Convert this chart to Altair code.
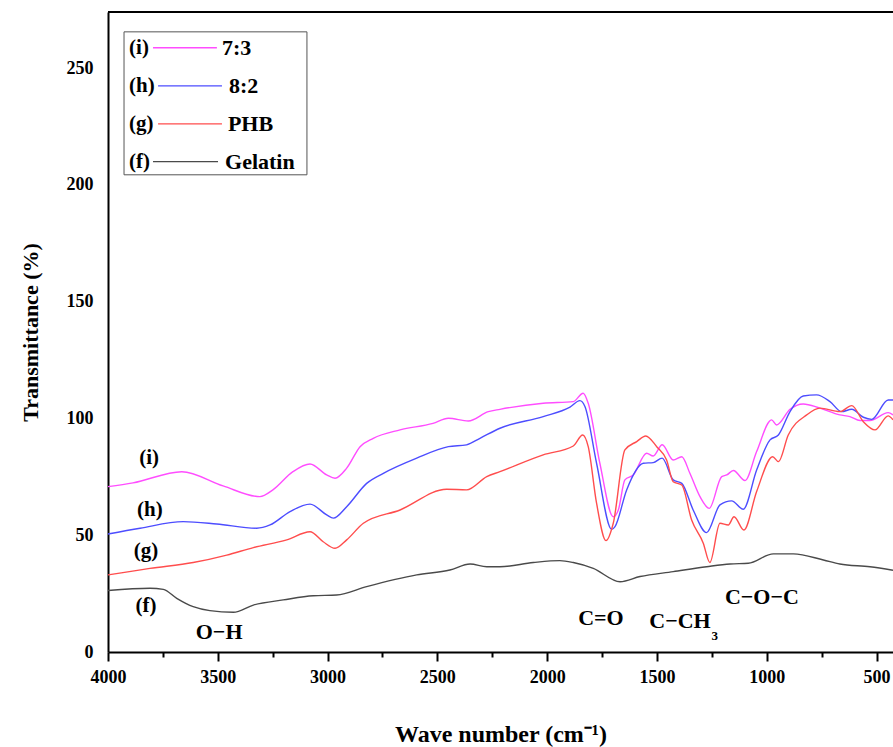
import altair as alt
import pandas as pd

# ---------------- data ----------------
series_names = ["7:3", "8:2", "PHB", "Gelatin"]
series_colors = ["#ff4dff", "#4d4dff", "#ff4d4d", "#4a4a4a"]

wn_i = [4000, 3886, 3664, 3476, 3308, 3249, 3158, 3080, 3004, 2966, 2913, 2852, 2792, 2670, 2520, 2450, 2359, 2268, 2215,
        2018, 1881, 1836, 1813, 1760, 1699, 1676, 1646, 1608, 1547, 1517, 1476, 1426, 1387, 1350, 1304, 1262, 1205, 1182,
        1152, 1099, 1046, 978, 955, 894, 834, 758, 667, 621, 575, 530, 447, 425]
tr_i = [70.8, 72.4, 77.2, 71.1, 66.5, 69.4, 77.2, 80.5, 75.8, 74.4, 78.7, 87.9, 91.5, 95.1, 97.9, 100.1, 98.9, 102.9, 103.9,
        106.5, 107.2, 110.8, 106.5, 80.8, 57.9, 60.8, 73.7, 75.8, 85.1, 83.9, 88.7, 82.2, 83.6, 76.5, 66.5, 61.5, 75.1, 75.8,
        77.7, 73.4, 85.8, 99.4, 97.2, 103.9, 106.2, 104.4, 101.5, 100.8, 99.1, 99.1, 102.5, 101.5]

wn_h = [4000, 3854, 3657, 3505, 3323, 3262, 3171, 3080, 3004, 2974, 2913, 2822, 2746, 2594, 2450, 2367, 2306, 2215,
        2018, 1896, 1851, 1828, 1775, 1706, 1691, 1638, 1562, 1517, 1476, 1426, 1387, 1335, 1274, 1213, 1160, 1107,
        1046, 985, 947, 894, 834, 773, 712, 659, 613, 560, 522, 447, 425]
tr_h = [50.5, 53.0, 55.8, 54.8, 53.0, 54.4, 60.1, 63.3, 58.7, 57.3, 62.2, 72.2, 76.5, 83.0, 87.9, 88.7, 91.5, 95.8,
        100.8, 104.8, 107.6, 105.1, 80.8, 52.5, 53.7, 69.4, 80.8, 81.1, 83.0, 73.7, 72.2, 60.8, 51.1, 63.0, 64.7, 61.1,
        77.9, 90.8, 92.9, 102.9, 109.6, 110.1, 107.2, 102.9, 103.9, 100.5, 99.6, 107.9, 107.9]

wn_g = [4000, 3809, 3612, 3459, 3338, 3186, 3080, 3020, 2966, 2913, 2837, 2670, 2458, 2367, 2275, 2215,
        2018, 1881, 1838, 1813, 1775, 1732, 1699, 1646, 1592, 1551, 1501, 1456, 1426, 1387, 1342, 1289, 1259, 1213,
        1175, 1149, 1104, 1046, 973, 947, 902, 818, 758, 667, 613, 560, 507, 447, 425]
tr_g = [33.0, 35.8, 38.3, 41.5, 44.7, 48.0, 51.5, 47.2, 44.4, 48.0, 55.1, 60.8, 69.7, 69.4, 75.1, 77.2,
        84.4, 88.2, 92.9, 87.9, 63.7, 47.7, 55.1, 86.5, 90.1, 92.5, 87.9, 82.2, 72.9, 71.5, 56.5, 46.6, 38.3, 55.1,
        54.4, 57.9, 52.2, 68.7, 83.6, 81.5, 92.9, 101.5, 104.4, 102.9, 105.5, 98.6, 95.1, 101.1, 99.4]

wn_f = [4000, 3809, 3748, 3687, 3612, 3536, 3429, 3338, 3202, 3065, 2959, 2822, 2594, 2443, 2351, 2275, 2215,
        2063, 1942, 1881, 1790, 1668, 1577, 1426, 1274, 1167, 1084, 970, 879, 742, 667, 530, 425]
tr_f = [26.3, 27.3, 26.8, 23.0, 19.4, 17.7, 17.0, 20.1, 22.3, 24.1, 24.4, 28.0, 33.0, 35.1, 37.7, 36.5, 36.5,
        38.3, 39.1, 38.3, 35.8, 30.1, 32.3, 34.4, 36.5, 37.7, 38.0, 42.0, 42.0, 39.4, 37.7, 36.5, 35.0]

# legend entries
leg_prefix = ["(i)", "(h)", "(g)", "(f)"]
# curve side labels
curve_labels = ["(i)", "(h)", "(g)", "(f)"]
# band labels
band_labels = ["O\u2212H", "C=O", "C\u2212CH", "3", "C\u2212O\u2212C"]

# ---------------- layout positions (annotation placement) ----------------
leg_box = dict(x1=3927, x2=3094, y1=265.5, y2=204.3)
leg_row_y = [258.7, 242.4, 226.1, 209.9]
leg_prefix_x = [3904, 3904, 3904, 3904]
leg_line_x1 = [3795, 3772, 3772, 3795]
leg_line_x2 = [3504, 3481, 3481, 3499]
leg_label_x = [3481, 3449, 3454, 3467]

curve_label_x = [3813, 3809, 3827, 3827]
curve_label_y = [83.1, 60.8, 43.3, 19.7]

band_x = [3494, 1755, 1395, 1237, 1022]
band_y = [8.6, 14.6, 13.3, 6.8, 23.6]
band_size = [22, 22, 22, 13, 22]

# ---------------- tables ----------------
rows = []
for name, wn, tr in zip(series_names, [wn_i, wn_h, wn_g, wn_f], [tr_i, tr_h, tr_g, tr_f]):
    for a, b in zip(wn, tr):
        rows.append({"series": name, "wn": a, "tr": b})
df = pd.DataFrame(rows)

leg_df = pd.DataFrame({
    "series": series_names, "prefix": leg_prefix, "y": leg_row_y,
    "px": leg_prefix_x, "x1": leg_line_x1, "x2": leg_line_x2, "lx": leg_label_x,
})
box_df = pd.DataFrame([leg_box])
cl_df = pd.DataFrame({"t": curve_labels, "x": curve_label_x, "y": curve_label_y})
band_df = pd.DataFrame({"t": band_labels, "x": band_x, "y": band_y, "s": band_size})

FONT = "Liberation Serif"
W, H = 785, 640

xscale = alt.Scale(domain=[425, 4000], reverse=True, nice=False, zero=False)
yscale = alt.Scale(domain=[0, 274], nice=False, zero=True)
cscale = alt.Scale(domain=series_names, range=series_colors)

x_axis = alt.Axis(
    title="Wave number (cm\u207b\u00b9)",
    values=list(range(500, 4001, 250)),
    labelExpr="datum.value % 500 === 0 ? format(datum.value, 'd') : ''",
    tickSize={"condition": {"test": "datum.value % 500 === 0", "value": 9}, "value": 5},
    tickWidth=2, tickColor="black",
    domainColor="black", domainWidth=2,
    labelFont=FONT, labelFontSize=18, labelFontWeight="bold", labelColor="black",
    labelPadding=7, labelFlush=False, labelOverlap=False,
    titleFont=FONT, titleFontSize=24, titleFontWeight="bold", titleColor="black",
    titlePadding=36, grid=False,
)
y_axis = alt.Axis(
    title="Transmittance (%)",
    values=[0, 50, 100, 150, 200, 250], format="d",
    ticks=False, domainColor="black", domainWidth=2,
    labelFont=FONT, labelFontSize=18, labelFontWeight="bold", labelColor="black",
    labelPadding=15,
    titleFont=FONT, titleFontSize=22, titleFontWeight="bold", titleColor="black",
    titlePadding=24, grid=False,
)


def X(field):
    return alt.X(field, type="quantitative", scale=xscale, axis=x_axis)


def Y(field):
    return alt.Y(field, type="quantitative", scale=yscale, axis=y_axis)


lines = alt.Chart(df).mark_line(strokeWidth=1.4, interpolate="monotone").encode(
    x=X("wn"), y=Y("tr"),
    color=alt.Color("series:N", scale=cscale, legend=None),
    detail="series:N",
)

top_rule = alt.Chart(pd.DataFrame({"a": [0]})).mark_rule(color="black", strokeWidth=2).encode(
    x=alt.value(0), x2=alt.value(W), y=alt.value(0)
)

box = alt.Chart(box_df).mark_rect(fill="white", stroke="#555555", strokeWidth=1).encode(
    x=X("x1"), x2="x2", y=Y("y1"), y2="y2"
)
leg_lines = alt.Chart(leg_df).mark_rule(strokeWidth=1.3).encode(
    x=X("x1"), x2="x2", y=Y("y"),
    color=alt.Color("series:N", scale=cscale, legend=None),
)
leg_prefix_t = alt.Chart(leg_df).mark_text(
    align="left", baseline="middle", font=FONT, fontSize=21, fontWeight="bold", color="black"
).encode(x=X("px"), y=Y("y"), text="prefix:N")
leg_label_t = alt.Chart(leg_df).mark_text(
    align="left", baseline="middle", font=FONT, fontSize=22, fontWeight="bold", color="black"
).encode(x=X("lx"), y=Y("y"), text="series:N")

curve_t = alt.Chart(cl_df).mark_text(
    align="center", baseline="middle", font=FONT, fontSize=21, fontWeight="bold", color="black"
).encode(x=X("x"), y=Y("y"), text="t:N")

band_t = alt.Chart(band_df).mark_text(
    align="center", baseline="middle", font=FONT, fontWeight="bold", color="black"
).encode(x=X("x"), y=Y("y"), text="t:N",
         size=alt.Size("s:Q", scale=None, legend=None))

chart = alt.layer(
    lines, top_rule, box, leg_lines, leg_prefix_t, leg_label_t, curve_t, band_t
).properties(
    width=W, height=H,
    autosize=alt.AutoSizeParams(type="none"),
    padding={"left": 108, "top": 12, "right": 0, "bottom": 95},
    background="white",
).configure_view(stroke=None)

chart.save("out.html", embed_options={"renderer": "svg", "actions": False})
